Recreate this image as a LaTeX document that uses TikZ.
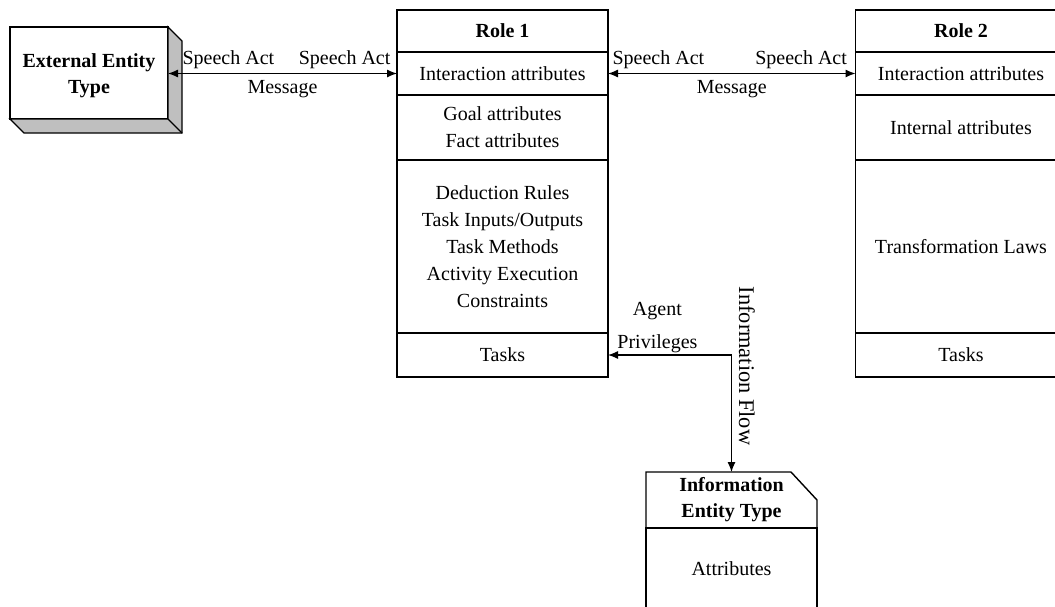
\documentclass[tikz,border=0pt]{standalone}
\usepackage{fontspec}
\setmainfont{Liberation Serif}
\usetikzlibrary{arrows.meta}
\usetikzlibrary{positioning}

\tikzset{
  cell/.style={draw, line width=0.7pt, minimum width=105.5pt, inner sep=0pt, outer sep=0pt, align=center, font=\fontsize{10}{13.5}\selectfont},
  flow/.style={line width=0.6pt, {Latex[length=5pt,width=4pt]}-{Latex[length=5pt,width=4pt]}},
  lbl/.style={inner sep=1pt, align=center, font=\fontsize{10}{12}\selectfont}
}

\begin{document}
\begin{tikzpicture}[x=0.5pt, y=-0.5pt]
  \useasboundingbox (0,0) rectangle (1055,606);
  \clip (0,0) rectangle (1055,606);

  % external entity
  \node[cell, minimum width=79pt, minimum height=46pt] (ext) at (89,73) {};
  \node[lbl, font=\fontsize{10}{13}\selectfont\bfseries] (exttext) at ([yshift=-1.5pt]ext.center) {External Entity\\Type};
  \filldraw[line width=0.7pt, fill=black!25] (ext.north east) -- ([shift={(14,14)}]ext.north east) -- ([shift={(14,14)}]ext.south east) -- ([shift={(14,14)}]ext.south west) -- (ext.south west) -- (ext.south east) -- cycle;
  \draw[line width=0.7pt] (ext.south east) -- ([shift={(14,14)}]ext.south east);

  % role 1
  \node[cell, minimum height=21pt] (r1head) at (502.5,31) {\textbf{Role 1}};
  \node[cell, minimum height=21.5pt, below=0pt of r1head] (r1inter) {Interaction attributes};
  \node[cell, minimum height=32.5pt, below=0pt of r1inter] (r1goal) {Goal attributes\\Fact attributes};
  \node[cell, minimum height=86.5pt, below=0pt of r1goal] (r1rules) {Deduction Rules\\Task Inputs/Outputs\\Task Methods\\Activity Execution\\Constraints};
  \node[cell, minimum height=22pt, below=0pt of r1rules] (r1tasks) {Tasks};

  % role 2
  \node[cell, minimum height=21pt] (r2head) at (961,31) {\textbf{Role 2}};
  \node[cell, minimum height=21.5pt, below=0pt of r2head] (r2inter) {Interaction attributes};
  \node[cell, minimum height=32.5pt, below=0pt of r2inter] (r2internal) {Internal attributes};
  \node[cell, minimum height=86.5pt, below=0pt of r2internal] (r2laws) {Transformation Laws};
  \node[cell, minimum height=22pt, below=0pt of r2laws] (r2tasks) {Tasks};

  % information entity
  \node[cell, draw=none, minimum width=85.5pt, minimum height=28pt, font=\fontsize{10}{13}\selectfont\bfseries] (infohead) at (731.5,500) {Information\\Entity Type};
  \draw[line width=0.7pt] (infohead.south west) -- (infohead.north west) -- ([shift={(-26,0)}]infohead.north east) -- ([shift={(0,28)}]infohead.north east) -- (infohead.south east);
  \node[cell, minimum width=85.5pt, minimum height=41pt, below=0pt of infohead] (infobody) {Attributes};

  % messages
  \draw[flow] (r1inter.west -| ext.east) -- node[lbl, below, yshift=-2pt] (msg1) {Message} (r1inter.west)
    node[lbl, above left, pos=1, xshift=-2pt, yshift=1pt] (sa1r) {Speech Act}
    node[lbl, above right, pos=0, xshift=6pt, yshift=1pt] (sa1l) {Speech Act};
  \draw[flow] (r1inter.east) -- node[lbl, below, yshift=-2pt] (msg2) {Message} (r2inter.west)
    node[lbl, above left, pos=1, xshift=-3pt, yshift=1pt] (sa2r) {Speech Act}
    node[lbl, above right, pos=0, xshift=1pt, yshift=1pt] (sa2l) {Speech Act};

  % information flow
  \coordinate (bend) at (r1tasks.east -| infohead.north);
  \draw[flow] (r1tasks.east) -| node[lbl, above, pos=0.2] (priv) {Agent\\[4.5pt]Privileges} (infohead.north);
  \node[lbl, rotate=-90, anchor=south, font=\fontsize{11.2}{13}\selectfont] (iflow) at ([shift={(5,11)}]bend) {Information Flow};
\end{tikzpicture}
\end{document}
